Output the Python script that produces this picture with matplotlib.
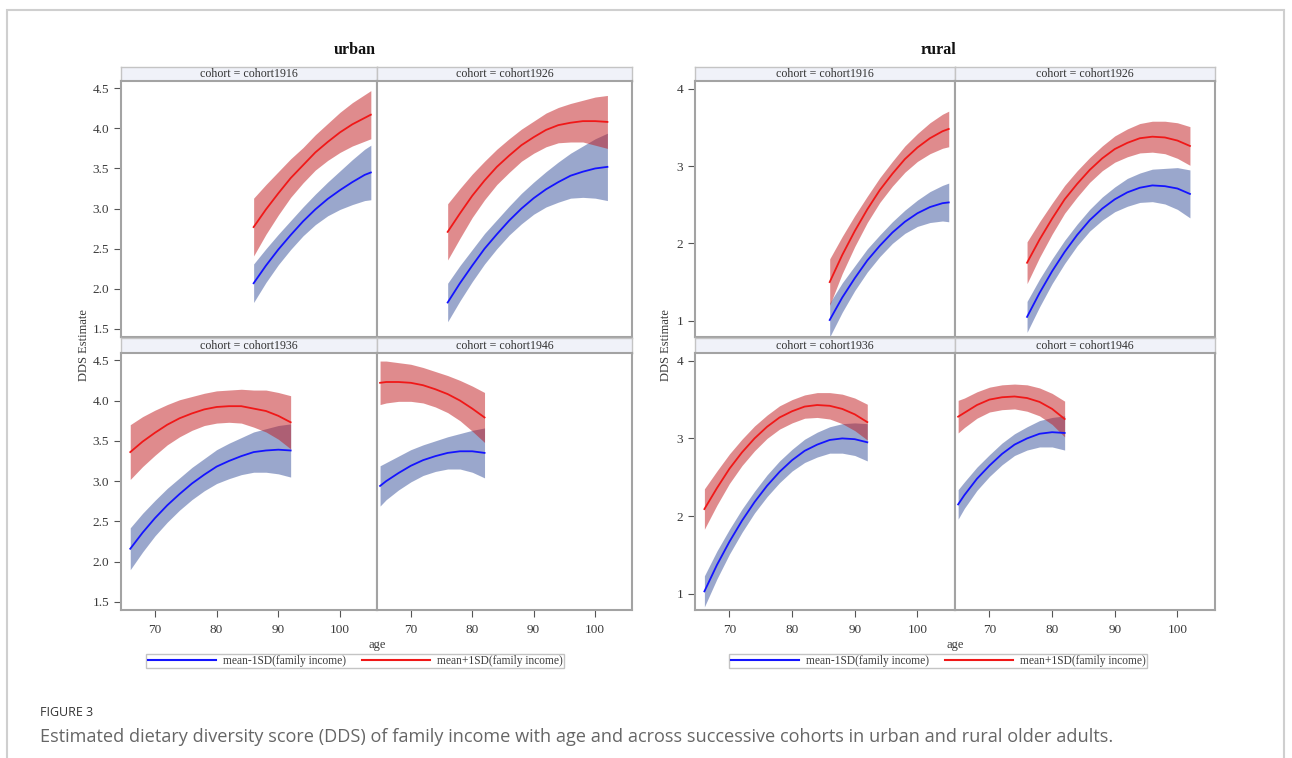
import matplotlib
matplotlib.use("Agg")
import matplotlib.pyplot as plt
from matplotlib.lines import Line2D
from matplotlib.patches import Rectangle
import numpy as np

# ages covered by each cohort
ages_1916 = [86, 88, 90, 92, 94, 96, 98, 100, 102, 104, 105]
ages_1926 = [76, 78, 80, 82, 84, 86, 88, 90, 92, 94, 96, 98, 100, 102]
ages_1936 = [66, 68, 70, 72, 74, 76, 78, 80, 82, 84, 86, 88, 90, 92]
ages_1946 = [65, 66, 68, 70, 72, 74, 76, 78, 80, 82]

# urban: mean+1SD (hi) / mean-1SD (lo) estimates and CI half widths
urban_hi_1916 = [2.77, 2.99, 3.19, 3.38, 3.54, 3.70, 3.83, 3.95, 4.05, 4.13, 4.17]
urban_hi_1916_ci = [0.36, 0.31, 0.27, 0.24, 0.22, 0.22, 0.23, 0.25, 0.27, 0.29, 0.30]
urban_lo_1916 = [2.07, 2.29, 2.49, 2.67, 2.84, 2.99, 3.12, 3.23, 3.33, 3.42, 3.45]
urban_lo_1916_ci = [0.24, 0.21, 0.19, 0.18, 0.18, 0.19, 0.21, 0.24, 0.28, 0.32, 0.34]

urban_hi_1926 = [2.71, 2.94, 3.16, 3.35, 3.52, 3.66, 3.79, 3.89, 3.98, 4.04, 4.07, 4.09, 4.09, 4.08]
urban_hi_1926_ci = [0.35, 0.31, 0.27, 0.24, 0.22, 0.21, 0.20, 0.20, 0.21, 0.22, 0.24, 0.26, 0.30, 0.33]
urban_lo_1926 = [1.83, 2.07, 2.29, 2.50, 2.68, 2.85, 3.00, 3.13, 3.24, 3.33, 3.41, 3.46, 3.50, 3.52]
urban_lo_1926_ci = [0.24, 0.22, 0.20, 0.19, 0.18, 0.18, 0.19, 0.20, 0.22, 0.25, 0.28, 0.32, 0.37, 0.42]

urban_hi_1936 = [3.36, 3.49, 3.60, 3.70, 3.78, 3.84, 3.89, 3.92, 3.93, 3.93, 3.90, 3.87, 3.81, 3.73]
urban_hi_1936_ci = [0.34, 0.31, 0.28, 0.25, 0.23, 0.21, 0.20, 0.20, 0.20, 0.21, 0.23, 0.26, 0.29, 0.33]
urban_lo_1936 = [2.16, 2.36, 2.54, 2.70, 2.84, 2.97, 3.08, 3.18, 3.25, 3.31, 3.36, 3.38, 3.39, 3.38]
urban_lo_1936_ci = [0.26, 0.24, 0.22, 0.21, 0.20, 0.20, 0.20, 0.21, 0.22, 0.23, 0.25, 0.27, 0.30, 0.33]

urban_hi_1946 = [4.22, 4.23, 4.23, 4.22, 4.19, 4.14, 4.08, 4.00, 3.90, 3.79]
urban_hi_1946_ci = [0.27, 0.26, 0.24, 0.23, 0.22, 0.22, 0.23, 0.25, 0.28, 0.31]
urban_lo_1946 = [2.94, 3.00, 3.10, 3.19, 3.26, 3.31, 3.35, 3.37, 3.37, 3.35]
urban_lo_1946_ci = [0.25, 0.23, 0.21, 0.20, 0.19, 0.19, 0.20, 0.22, 0.26, 0.31]

# rural
rural_hi_1916 = [1.50, 1.85, 2.16, 2.44, 2.69, 2.90, 3.09, 3.24, 3.36, 3.45, 3.48]
rural_hi_1916_ci = [0.30, 0.24, 0.20, 0.17, 0.16, 0.16, 0.17, 0.18, 0.20, 0.22, 0.23]
rural_lo_1916 = [1.01, 1.30, 1.55, 1.78, 1.97, 2.14, 2.28, 2.39, 2.47, 2.52, 2.53]
rural_lo_1916_ci = [0.22, 0.19, 0.16, 0.15, 0.14, 0.14, 0.15, 0.17, 0.20, 0.23, 0.25]

rural_hi_1926 = [1.75, 2.05, 2.32, 2.57, 2.77, 2.95, 3.10, 3.22, 3.30, 3.36, 3.38, 3.37, 3.33, 3.26]
rural_hi_1926_ci = [0.27, 0.23, 0.20, 0.18, 0.17, 0.16, 0.16, 0.17, 0.18, 0.19, 0.20, 0.21, 0.23, 0.25]
rural_lo_1926 = [1.05, 1.36, 1.64, 1.89, 2.11, 2.30, 2.45, 2.57, 2.66, 2.72, 2.75, 2.74, 2.71, 2.64]
rural_lo_1926_ci = [0.20, 0.18, 0.16, 0.15, 0.14, 0.14, 0.15, 0.16, 0.18, 0.19, 0.21, 0.23, 0.27, 0.31]

rural_hi_1936 = [2.09, 2.36, 2.61, 2.82, 3.00, 3.15, 3.27, 3.35, 3.41, 3.43, 3.42, 3.38, 3.31, 3.21]
rural_hi_1936_ci = [0.26, 0.22, 0.19, 0.17, 0.16, 0.15, 0.15, 0.15, 0.15, 0.16, 0.17, 0.19, 0.21, 0.23]
rural_lo_1936 = [1.03, 1.37, 1.67, 1.94, 2.18, 2.39, 2.57, 2.72, 2.84, 2.92, 2.98, 3.00, 2.99, 2.95]
rural_lo_1936_ci = [0.20, 0.18, 0.16, 0.15, 0.14, 0.14, 0.14, 0.14, 0.15, 0.16, 0.17, 0.19, 0.21, 0.24]

rural_hi_1946 = [3.28, 3.33, 3.43, 3.50, 3.53, 3.54, 3.52, 3.47, 3.38, 3.25]
rural_hi_1946_ci = [0.21, 0.19, 0.17, 0.16, 0.16, 0.16, 0.17, 0.18, 0.20, 0.23]
rural_lo_1946 = [2.15, 2.27, 2.48, 2.65, 2.80, 2.92, 3.00, 3.06, 3.08, 3.07]
rural_lo_1946_ci = [0.19, 0.17, 0.15, 0.14, 0.14, 0.14, 0.15, 0.17, 0.19, 0.22]

cohorts = ["cohort1916", "cohort1926", "cohort1936", "cohort1946"]
x_ticks = [70, 80, 90, 100]
urban_yticks = [1.5, 2.0, 2.5, 3.0, 3.5, 4.0, 4.5]
rural_yticks = [1, 2, 3, 4]
legend_labels = ["mean-1SD(family income)", "mean+1SD(family income)"]

W, H = 1292, 758
SERIF = "Liberation Serif"
BLUE, RED = "#1414ff", "#f01818"
BLUE_BAND, RED_BAND = "#37519b", "#c1191d"
GRID_GRAY = "#a3a3a3"


def px_rect(x0, y0, x1, y1):
    return [x0 / W, 1 - y1 / H, (x1 - x0) / W, (y1 - y0) / H]


def draw_group(fig, title, cols, data, yticks, ylim, title_x, ylabel_x):
    ages = [ages_1916, ages_1926, ages_1936, ages_1946]
    rows = [((67, 81), (81, 337)), ((338, 353), (353, 610))]
    for k in range(4):
        r, c = divmod(k, 2)
        (sy0, sy1), (py0, py1) = rows[r]
        x0, x1 = cols[c]
        # strip header
        sax = fig.add_axes(px_rect(x0, sy0, x1, sy1))
        sax.set_facecolor("#f0f2f9")
        sax.set_xticks([])
        sax.set_yticks([])
        for s in sax.spines.values():
            s.set_color("#c4c4c4")
            s.set_linewidth(1.0)
        sax.text(0.5, 0.5, "cohort = " + cohorts[k], ha="center", va="center",
                 family=SERIF, fontsize=8.6, color="#333333", transform=sax.transAxes)

        ax = fig.add_axes(px_rect(x0, py0, x1, py1))
        a = np.array(ages[k])
        hi, hi_ci, lo, lo_ci = [np.array(v) for v in data[k]]
        ax.fill_between(a, lo - lo_ci, lo + lo_ci, color=BLUE_BAND, alpha=0.5, lw=0)
        ax.fill_between(a, hi - hi_ci, hi + hi_ci, color=RED_BAND, alpha=0.5, lw=0)
        ax.plot(a, lo, color=BLUE, lw=1.3)
        ax.plot(a, hi, color=RED, lw=1.3)
        ax.set_xlim(64.5, 106)
        ax.set_ylim(*ylim)
        for s in ax.spines.values():
            s.set_color(GRID_GRAY)
            s.set_linewidth(1.5)
        ax.tick_params(colors="#555555", length=5, width=0.8, labelsize=9.5,
                       labelcolor="#3a3a3a")
        ax.set_xticks(x_ticks)
        ax.set_yticks(yticks)
        ax.set_xticklabels([str(t) for t in x_ticks], family=SERIF)
        ax.set_yticklabels([str(t) for t in yticks], family=SERIF)
        if c == 1:
            ax.tick_params(axis="y", left=False, labelleft=False)
        if r == 0:
            ax.tick_params(axis="x", bottom=False, labelbottom=False)
        ax.tick_params(axis="x", pad=5)

    fig.text(title_x / W, 1 - 50 / H, title, ha="center", va="center",
             family=SERIF, fontsize=11.5, weight="bold", color="#111111")
    fig.text(ylabel_x / W, 1 - 345 / H, "DDS Estimate", rotation=90,
             ha="center", va="center", family=SERIF, fontsize=9, color="#3a3a3a")
    fig.text(cols[1][0] / W, 1 - 645 / H, "age", ha="center", va="center",
             family=SERIF, fontsize=9, color="#3a3a3a")
    handles = [Line2D([], [], color=BLUE, lw=1.5), Line2D([], [], color=RED, lw=1.5)]
    leg = fig.legend(handles, legend_labels, loc="center", ncol=2,
                     bbox_to_anchor=(title_x / W, 1 - 661 / H),
                     prop={"family": SERIF, "size": 8.3}, frameon=True, fancybox=False,
                     handlelength=5.9, handletextpad=0.6, columnspacing=1.4,
                     borderpad=0.12, edgecolor="#c4c4c4", framealpha=1)
    leg.get_frame().set_linewidth(1.0)
    for t in leg.get_texts():
        t.set_color("#3a3a3a")


def main():
    plt.rcParams["font.family"] = [SERIF, "DejaVu Serif"]
    fig = plt.figure(figsize=(W / 100, H / 100), dpi=100)
    fig.patch.set_facecolor("white")

    # outer article frame
    fig.patches.append(Rectangle((7 / W, -0.02), (1284 - 7) / W, 1 - 10 / H + 0.02,
                                 transform=fig.transFigure, fill=False,
                                 edgecolor="#cfcfcf", lw=1.5))

    urban = [
        (urban_hi_1916, urban_hi_1916_ci, urban_lo_1916, urban_lo_1916_ci),
        (urban_hi_1926, urban_hi_1926_ci, urban_lo_1926, urban_lo_1926_ci),
        (urban_hi_1936, urban_hi_1936_ci, urban_lo_1936, urban_lo_1936_ci),
        (urban_hi_1946, urban_hi_1946_ci, urban_lo_1946, urban_lo_1946_ci),
    ]
    rural = [
        (rural_hi_1916, rural_hi_1916_ci, rural_lo_1916, rural_lo_1916_ci),
        (rural_hi_1926, rural_hi_1926_ci, rural_lo_1926, rural_lo_1926_ci),
        (rural_hi_1936, rural_hi_1936_ci, rural_lo_1936, rural_lo_1936_ci),
        (rural_hi_1946, rural_hi_1946_ci, rural_lo_1946, rural_lo_1946_ci),
    ]
    draw_group(fig, "urban", [(121, 377), (377, 632)], urban, urban_yticks,
               (1.40, 4.59), 355, 84)
    draw_group(fig, "rural", [(695, 955), (955, 1215)], rural, rural_yticks,
               (0.79, 4.10), 938, 666)

    fig.text(40 / W, 1 - 712 / H, "FIGURE 3", ha="left", va="center",
             family="Open Sans", fontsize=9, color="#333333")
    fig.text(40 / W, 1 - 737 / H,
             "Estimated dietary diversity score (DDS) of family income with age and "
             "across successive cohorts in urban and rural older adults.",
             ha="left", va="center", family="Open Sans", fontsize=13.1, color="#666666")

    fig.savefig("out.png", dpi=100)


if __name__ == "__main__":
    main()
